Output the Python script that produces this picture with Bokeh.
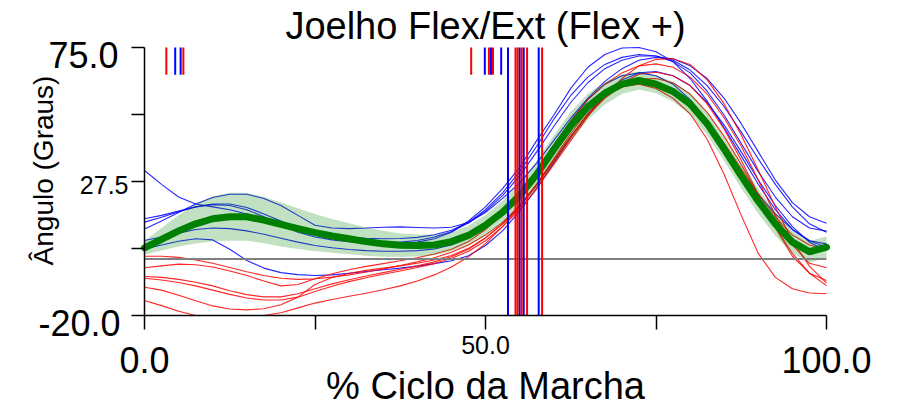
import math
from bokeh.plotting import figure
from bokeh.models import Label, FixedTicker, Range1d
from bokeh.embed import file_html
from bokeh.resources import INLINE

# ---------------- data ----------------
pct = [0.0, 2.5, 5.0, 7.5, 10.0, 12.5, 15.0, 17.5, 20.0, 22.5, 25.0, 27.5, 30.0, 32.5,
       35.0, 37.5, 40.0, 42.5, 45.0, 47.5, 50.0, 52.5, 55.0, 57.5, 60.0, 62.5, 65.0,
       67.5, 70.0, 72.5, 75.0, 77.5, 80.0, 82.5, 85.0, 87.5, 90.0, 92.5, 95.0, 97.5, 100.0]

blue_1 = [31.4, 26.5, 22.0, 19.5, 18.5, 17.5, 16.0, 14.0, 12.0, 10.5, 9.3, 8.4, 7.8, 7.4,
          7.2, 7.3, 7.7, 8.6, 10.2, 13.0, 17.5, 23.5, 31.0, 40.0, 49.5, 58.0, 64.5,
          69.0, 71.5, 72.5, 72.0, 70.0, 66.0, 59.5, 51.0, 41.0, 31.0, 22.0, 15.0, 11.0, 9.9]
blue_2 = [10.7, 13.5, 16.5, 19.5, 21.8, 23.0, 23.0, 21.5, 19.0, 15.5, 12.0, 11.0, 10.8, 11.0,
          11.3, 11.4, 11.2, 11.0, 11.3, 13.0, 16.5, 21.5, 27.0, 34.0, 42.0, 50.0, 57.0,
          63.0, 67.5, 70.5, 71.5, 71.0, 68.5, 64.0, 57.0, 48.0, 38.0, 28.0, 20.0, 15.0, 12.7]
blue_3 = [14.3, 15.5, 17.0, 18.5, 19.3, 19.0, 17.5, 15.0, 12.0, 9.5, 7.8, 6.8, 6.2, 5.8,
          5.6, 5.6, 6.0, 7.2, 9.5, 13.5, 18.5, 25.0, 32.5, 42.0, 51.0, 60.5, 68.0,
          72.5, 74.8, 75.0, 73.5, 70.0, 64.0, 56.0, 46.5, 36.5, 26.5, 17.5, 10.5, 6.5, 5.4]
blue_4 = [13.1, 14.8, 16.8, 18.5, 19.5, 19.5, 18.3, 16.0, 13.5, 11.0, 9.0, 7.6, 6.6, 6.0,
          5.8, 6.0, 6.6, 7.8, 9.8, 12.8, 17.0, 22.5, 29.5, 38.0, 47.0, 55.5, 62.5,
          67.5, 70.5, 72.0, 72.0, 70.5, 67.0, 61.5, 54.0, 45.0, 35.5, 26.5, 18.5, 12.5, 9.5]
blue_5 = [6.6, 7.8, 9.2, 10.5, 11.0, 10.8, 10.0, 8.8, 7.4, 6.0, 4.8, 4.0, 3.4, 3.0,
          2.8, 2.8, 3.0, 3.6, 5.0, 7.5, 11.5, 16.5, 23.0, 31.0, 40.0, 49.0, 56.5,
          62.0, 65.0, 66.0, 65.0, 62.0, 56.5, 49.0, 40.0, 31.0, 23.0, 16.0, 10.5, 6.5, 4.2]
blue_6 = [3.6, 5.0, 6.3, 7.2, 6.8, 3.5, -0.5, -3.2, -4.8, -5.5, -5.8, -5.6, -5.0, -4.4,
          -3.8, -3.2, -2.5, -1.6, -0.6, 1.2, 4.8, 10.0, 17.0, 25.0, 34.0, 43.0, 51.5,
          58.5, 63.5, 66.0, 66.5, 65.0, 61.5, 55.5, 47.5, 38.0, 28.0, 19.0, 11.5, 6.0, 3.0]

red_1 = [1.0, 1.0, 0.6, -0.3, -1.5, -3.0, -4.5, -5.8, -6.8, -7.2, -7.0, -6.4, -5.6, -4.6,
         -3.5, -2.3, -1.0, 0.5, 2.4, 5.0, 8.5, 13.0, 19.0, 26.5, 35.0, 43.5, 51.5,
         57.5, 61.5, 63.0, 62.5, 60.0, 55.5, 49.0, 41.0, 32.0, 23.0, 15.0, 8.5, 5.0, 3.5]
red_2 = [-3.1, -2.4, -1.8, -2.0, -2.8, -4.2, -5.8, -7.8, -9.5, -9.0, -7.0, -5.2, -3.8, -2.6,
         -1.6, -0.6, 0.5, 1.8, 3.5, 6.2, 10.5, 16.0, 23.0, 31.5, 40.5, 49.0, 56.5,
         62.0, 66.0, 68.5, 69.2, 68.0, 64.5, 58.5, 50.0, 40.0, 28.0, 15.5, 5.0, -1.5, -3.1]
red_3 = [-6.2, -6.5, -7.2, -8.2, -9.5, -11.2, -12.6, -13.4, -13.4, -12.3, -10.5, -8.8, -7.3, -6.0,
         -4.8, -3.6, -2.4, -1.0, 0.8, 3.5, 7.5, 12.5, 18.5, 26.0, 34.5, 43.0, 51.0,
         57.5, 62.5, 65.5, 66.2, 65.0, 61.5, 55.0, 46.0, 35.0, 23.0, 11.0, 1.0, -5.0, -7.6]
red_4 = [-6.8, -7.4, -8.3, -9.5, -11.0, -12.5, -13.8, -14.5, -14.5, -13.5, -11.5, -9.6, -8.0, -6.6,
         -5.4, -4.2, -3.0, -1.6, 0.2, 2.8, 6.5, 11.5, 17.5, 25.0, 33.5, 42.0, 50.5,
         58.0, 64.0, 68.5, 70.8, 71.0, 69.0, 63.5, 55.0, 44.0, 31.5, 18.5, 6.5, -2.5, -8.5]
red_5 = [-10.0, -11.0, -12.8, -14.8, -16.6, -17.7, -18.0, -17.6, -16.2, -13.5, -9.0, -6.5, -5.0, -4.0,
         -3.2, -2.4, -1.5, -0.3, 1.3, 3.8, 7.5, 12.5, 18.8, 26.5, 35.5, 44.5, 52.5,
         58.0, 61.0, 62.0, 60.5, 57.0, 51.5, 42.5, 30.0, 15.5, 2.0, -6.5, -10.5, -12.0, -12.3]
red_6 = [-14.7, -16.5, -18.5, -20.0, -21.0, -21.5, -21.3, -20.3, -19.0, -17.3, -15.6, -14.3, -13.2, -12.1,
         -10.9, -9.5, -7.8, -5.6, -2.8, 0.8, 5.5, 11.5, 18.5, 26.5, 35.0, 43.5, 51.0,
         57.0, 61.5, 63.8, 64.0, 62.5, 58.5, 52.0, 43.5, 33.5, 22.5, 11.5, 2.0, -5.0, -9.4]

mean_curve = [4.0, 7.0, 10.0, 12.5, 14.3, 15.0, 15.0, 13.8, 12.3, 10.8, 9.4, 8.2, 7.2, 6.2,
              5.4, 4.9, 4.8, 5.0, 6.2, 8.4, 12.0, 16.6, 22.5, 30.0, 38.8, 47.2, 54.0,
              58.8, 62.0, 63.3, 62.0, 59.4, 55.0, 48.0, 39.0, 29.5, 20.5, 12.5, 6.0, 2.6, 4.2]
sd_curve = [2.5, 4.0, 5.5, 7.0, 8.0, 8.5, 8.5, 8.2, 7.8, 7.2, 6.6, 6.0, 5.5, 5.0,
            4.6, 4.2, 3.9, 3.6, 3.4, 3.4, 3.6, 4.0, 4.4, 4.8, 5.0, 5.0, 4.6,
            4.0, 3.5, 3.2, 3.2, 3.5, 3.8, 4.0, 4.2, 4.4, 4.4, 4.2, 4.0, 3.8, 3.8]

toe_off_blue = [53.3, 55.0, 55.6, 57.8]
toe_off_red = [54.4, 54.7, 55.3, 56.1, 58.3]
event_blue = [4.5, 5.3, 49.9, 50.8, 52.3]
event_red = [3.2, 5.7, 47.9, 50.5, 51.1]

x_ticks = [0, 25, 50, 75, 100]
y_ticks = [75, 51.25, 27.5, 3.75, -20]
x_tick_labels = {0: "0.0", 50: "50.0", 100: "100.0"}
y_tick_labels = {75: "75.0", 27.5: "27.5", -20: "-20.0"}

title_text = "Joelho Flex/Ext (Flex +)"
x_title = "% Ciclo da Marcha"
y_title = "Ângulo (Graus)"

X_MIN, X_MAX = 0, 100
Y_MIN, Y_MAX = -20, 75
ZERO = 0
EVENT_BOTTOM = 65.3

# ---------------- layout (pixels) ----------------
W, H = 902, 406
AX_LEFT, AX_RIGHT, AX_TOP, AX_BOTTOM = 144, 826, 47, 315   # where the data box sits
sx = (AX_RIGHT - AX_LEFT) / (X_MAX - X_MIN)
sy = (AX_BOTTOM - AX_TOP) / (Y_MAX - Y_MIN)
x_range = Range1d(X_MIN - AX_LEFT / sx, X_MIN + (W - AX_LEFT) / sx)
y_range = Range1d(Y_MAX - (H - AX_TOP) / sy, Y_MAX + AX_TOP / sy)

FONT = "Liberation Sans"
BLUE = "#0000FF"
RED = "#FF0000"
GREEN = "#008000"

p = figure(width=W, height=H, x_range=x_range, y_range=y_range,
           output_backend="svg", toolbar_location=None, min_border=0)
p.grid.visible = False
p.outline_line_color = None
p.background_fill_color = "white"
p.border_fill_color = "white"

xa, ya = p.xaxis[0], p.yaxis[0]
xa.fixed_location = Y_MIN
ya.fixed_location = X_MIN
xa.bounds = (X_MIN, X_MAX)
ya.bounds = (Y_MIN, Y_MAX)
for ax, ticks, out in ((xa, x_ticks, 14), (ya, y_ticks, 13)):
    ax.ticker = FixedTicker(ticks=ticks)
    ax.major_tick_out = out
    ax.major_tick_in = 0
    ax.minor_tick_out = 0
    ax.minor_tick_in = 0
    ax.axis_line_width = 1.5
    ax.axis_line_color = "black"
    ax.major_tick_line_width = 1.5
    ax.major_tick_line_color = "black"
    ax.major_label_overrides = {t: "" for t in ticks}
    ax.major_label_standoff = 0

# individual curves (drawn no lower than the axis, as the data box clips them)
for ys in (blue_1, blue_2, blue_3, blue_4, blue_5, blue_6):
    p.line(pct, [min(max(v, Y_MIN), Y_MAX) for v in ys],
           line_color=BLUE, line_width=1.1, line_alpha=0.85)
for ys in (red_1, red_2, red_3, red_4, red_5, red_6):
    p.line(pct, [min(max(v, Y_MIN), Y_MAX) for v in ys],
           line_color=RED, line_width=1.1, line_alpha=0.85)

# mean +/- sd band and mean
upper = [m + s for m, s in zip(mean_curve, sd_curve)]
lower = [m - s for m, s in zip(mean_curve, sd_curve)]
p.varea(x=pct, y1=lower, y2=upper, fill_color=GREEN, fill_alpha=0.24)
p.line(pct, mean_curve, line_color=GREEN, line_width=7, line_join="round", line_cap="round")

# zero line
p.segment(x0=[X_MIN], y0=[ZERO], x1=[X_MAX], y1=[ZERO], line_color="#808080", line_width=2)

# toe-off full-height lines
p.segment(x0=toe_off_blue, y0=[Y_MIN] * len(toe_off_blue), x1=toe_off_blue,
          y1=[Y_MAX] * len(toe_off_blue), line_color=BLUE, line_width=2)
p.segment(x0=toe_off_red, y0=[Y_MIN] * len(toe_off_red), x1=toe_off_red,
          y1=[Y_MAX] * len(toe_off_red), line_color=RED, line_width=2)

# short event marks at top
p.segment(x0=event_blue, y0=[EVENT_BOTTOM] * len(event_blue), x1=event_blue,
          y1=[Y_MAX] * len(event_blue), line_color=BLUE, line_width=2)
p.segment(x0=event_red, y0=[EVENT_BOTTOM] * len(event_red), x1=event_red,
          y1=[Y_MAX] * len(event_red), line_color=RED, line_width=2)

# ---------------- texts ----------------
def add_label(**kw):
    kw.setdefault("text_font", FONT)
    kw.setdefault("text_color", "black")
    p.add_layout(Label(x_units="data", y_units="data", **kw))

y_style = {75: ("36px", -26, -7.5), 27.5: ("25px", -16, -3), -20: ("36px", -24, -7.5)}
for v, t in y_tick_labels.items():
    size, xo, yo = y_style[v]
    add_label(x=X_MIN, y=v, text=t, text_align="right", text_baseline="alphabetic",
              x_offset=xo, y_offset=yo, text_font_size=size)

x_style = {0: ("36px", -44.5), 50: ("25px", -29.5), 100: ("36px", -44.5)}
for v, t in x_tick_labels.items():
    size, yo = x_style[v]
    add_label(x=v, y=Y_MIN, text=t, text_align="center", text_baseline="alphabetic",
              y_offset=yo, text_font_size=size)

add_label(x=(X_MIN + X_MAX) / 2, y=Y_MIN, text=x_title, text_align="center",
          text_baseline="alphabetic", y_offset=-70, text_font_size="38px")
add_label(x=X_MIN, y=(Y_MIN + Y_MAX) / 2, text=y_title, text_align="center",
          text_baseline="alphabetic", angle=math.pi / 2, x_offset=-101, y_offset=11,
          text_font_size="28px")
add_label(x=(X_MIN + X_MAX) / 2, y=Y_MAX, text=title_text, text_align="center",
          text_baseline="alphabetic", y_offset=22, text_font_size="38px")

open("out.html", "w").write(file_html(p, INLINE))
